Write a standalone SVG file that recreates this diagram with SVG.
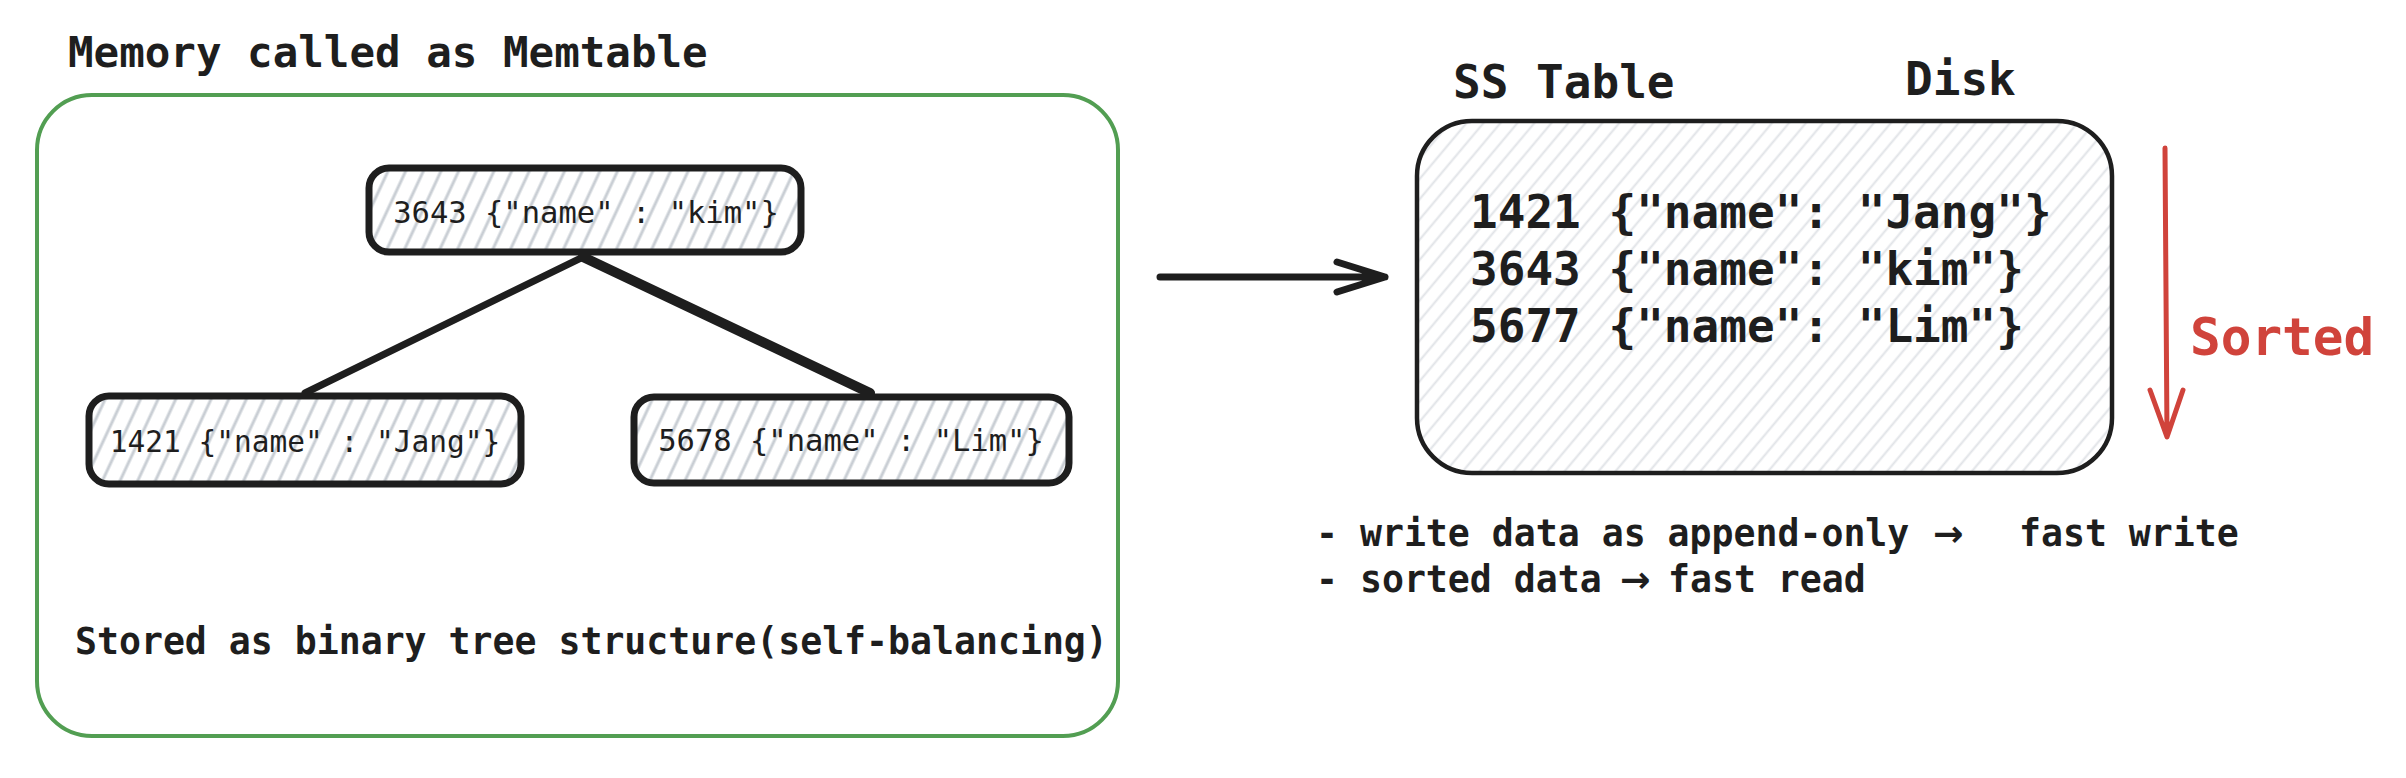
<svg xmlns="http://www.w3.org/2000/svg" width="2406" height="778" viewBox="0 0 2406 778">
<style>
  .t { font-family: "DejaVu Sans Mono", "Liberation Mono", monospace; fill: #1e1e1e; }
  .b { font-weight: bold; }
  .node { fill: url(#hN); }
  .nodeStroke { fill: none; stroke: #1e1e1e; stroke-width: 7; }
  .conn { stroke: #1e1e1e; fill: none; stroke-linecap: round; stroke-linejoin: round; }
  .arr { font-family: "DejaVu Sans", sans-serif; }
</style>
<defs>
  <pattern id="hN" width="16" height="16" patternUnits="userSpaceOnUse" patternTransform="rotate(25)">
    <line x1="8" y1="0" x2="8" y2="16" stroke="#c9ced4" stroke-width="3"/>
  </pattern>
  <pattern id="hS" width="13" height="13" patternUnits="userSpaceOnUse" patternTransform="rotate(40)">
    <line x1="6.5" y1="0" x2="6.5" y2="13" stroke="#e0e3e7" stroke-width="2"/>
  </pattern>
</defs>
<rect width="2406" height="778" fill="#ffffff"/>

<g id="memtable">
  <text class="t b" x="68" y="67" font-size="42.5">Memory called as Memtable</text>
  <rect x="37" y="95" width="1081" height="641" rx="55" fill="none" stroke="#529e52" stroke-width="4"/>
  <text class="t b" x="75" y="654" font-size="36.5">Stored as binary tree structure(self-balancing)</text>
</g>

<g id="connectors">
  <line class="conn" x1="583" y1="257" x2="305" y2="393" stroke-width="7"/>
  <line class="conn" x1="583" y1="257" x2="870" y2="393" stroke-width="10"/>
  <path class="conn" d="M1160 277 L1385 277 M1337 262 L1385 277 L1337 292" stroke-width="7"/>
  <path d="M2165 148 L2167 437 M2150 390 L2167 437 L2183 390" fill="none" stroke="#d0433b" stroke-width="5" stroke-linecap="round" stroke-linejoin="round"/>
</g>

<g id="node-3643">
  <rect class="node" x="369" y="168" width="432" height="84" rx="20"/>
  <rect class="nodeStroke" x="369" y="168" width="432" height="84" rx="20"/>
  <text class="t" x="586" y="223" font-size="30.5" text-anchor="middle">3643 {"name" : "kim"}</text>
</g>

<g id="node-1421">
  <rect class="node" x="89" y="396" width="432" height="88" rx="20"/>
  <rect class="nodeStroke" x="89" y="396" width="432" height="88" rx="20"/>
  <text class="t" x="305" y="452" font-size="29.5" text-anchor="middle">1421 {"name" : "Jang"}</text>
</g>

<g id="node-5678">
  <rect class="node" x="634" y="397" width="435" height="86" rx="20"/>
  <rect class="nodeStroke" x="634" y="397" width="435" height="86" rx="20"/>
  <text class="t" x="851" y="451" font-size="30.5" text-anchor="middle">5678 {"name" : "Lim"}</text>
</g>

<g id="sstable">
  <text class="t b" x="1453" y="98" font-size="46">SS Table</text>
  <text class="t b" x="1905" y="95" font-size="46">Disk</text>
  <rect x="1417" y="121" width="695" height="352" rx="55" fill="url(#hS)"/>
  <rect x="1417" y="121" width="695" height="352" rx="55" fill="none" stroke="#1e1e1e" stroke-width="4.5"/>
  <text class="t b" font-size="46">
    <tspan x="1470" y="228">1421 {"name": "Jang"}</tspan>
    <tspan x="1470" y="285">3643 {"name": "kim"}</tspan>
    <tspan x="1470" y="342">5677 {"name": "Lim"}</tspan>
  </text>
</g>

<g id="sorted">
  <text class="b" x="2190" y="355" font-size="51" font-family="DejaVu Sans Mono, Liberation Mono, monospace" fill="#d0433b">Sorted</text>
</g>

<g id="notes">
  <text class="t b" font-size="36.5" y="546"><tspan x="1316">- write data as append-only</tspan><tspan class="arr" x="1933">→</tspan><tspan x="2019">fast write</tspan></text>
  <text class="t b" font-size="36.5" y="592"><tspan x="1316">- sorted data</tspan><tspan class="arr" x="1620">→</tspan><tspan x="1668">fast read</tspan></text>
</g>
</svg>
